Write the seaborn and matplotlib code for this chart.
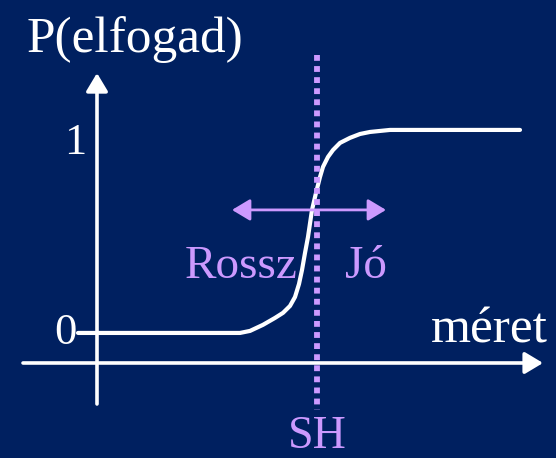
import seaborn as sns
import pandas as pd
import matplotlib.pyplot as plt

# acceptance curve (meret units, probability)
meret = [-1.9, 14.3, 15.3, 16.6, 17.8, 18.6, 19.3, 19.8, 20.2, 20.5, 20.8, 21.1, 21.5,
         21.9, 22.3, 22.6, 23.1, 23.6, 24.3, 25.3, 26.3, 27.3, 28.3, 29.3, 42.3]
p_elfogad = [0.0, 0.0, 0.01, 0.04, 0.074, 0.099, 0.133, 0.177, 0.241, 0.310, 0.394, 0.473, 0.606,
             0.690, 0.768, 0.818, 0.867, 0.901, 0.936, 0.961, 0.980, 0.990, 0.995, 1.0, 1.0]
sh = 22.0
y_ticks = [0, 1]

bg = '#002060'
lila = '#cc99ff'

sns.set_theme(style='white')
plt.rcParams['font.family'] = ['Liberation Serif', 'DejaVu Serif']

fig = plt.figure(figsize=(5.56, 4.58), dpi=100, facecolor=bg)
ax = fig.add_axes([0, 0, 1, 1])
ax.set_facecolor(bg)
ax.set_xlim(-9.7, 45.9)
ax.set_ylim(-0.616, 1.640)
ax.axis('off')

df = pd.DataFrame({'meret': meret, 'p': p_elfogad})
sns.lineplot(data=df, x='meret', y='p', ax=ax, color='white', lw=3, sort=False)

# axes with arrows
arrow = dict(arrowstyle='-|>,head_length=0.5,head_width=0.3', color='white', lw=2.6,
             mutation_scale=22, shrinkA=0, shrinkB=0)
ax.annotate('', xy=(0, 1.28), xytext=(0, -0.35), arrowprops=arrow)
ax.annotate('', xy=(44.6, -0.148), xytext=(-7.4, -0.148), arrowprops=arrow)

# SH threshold
ax.plot([sh, sh], [1.37, -0.38], color=lila, lw=4.2, linestyle=(0, (1, 0.9)))
ax.annotate('', xy=(28.9, 0.606), xytext=(13.5, 0.606),
            arrowprops=dict(arrowstyle='<|-|>,head_length=0.5,head_width=0.3', color=lila,
                            lw=2, mutation_scale=22, shrinkA=0, shrinkB=0))

# labels
ax.text(-7.0, 1.443, 'P(elfogad)', color='white', fontsize=37, va='center', ha='left')
ax.text(-2.2, 0.936, str(y_ticks[1]), color='white', fontsize=32, va='center', ha='center')
ax.text(-3.2, 0.0, str(y_ticks[0]), color='white', fontsize=32, va='center', ha='center')
ax.text(45.1, -0.049, 'méret', color='white', fontsize=37, va='baseline', ha='right')
ax.text(20.1, 0.271, 'Rossz', color=lila, fontsize=34, va='baseline', ha='right')
ax.text(24.8, 0.271, 'Jó', color=lila, fontsize=34, va='baseline', ha='left')
ax.text(sh, -0.565, 'SH', color=lila, fontsize=33, va='baseline', ha='center')

plt.savefig('out.png', dpi=100, facecolor=bg)
